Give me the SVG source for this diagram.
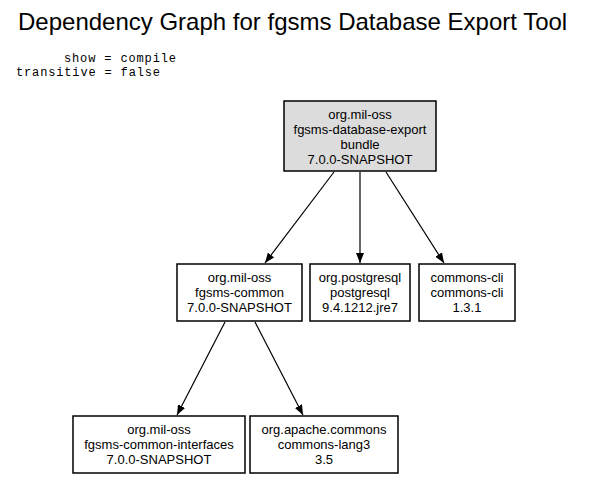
<svg xmlns="http://www.w3.org/2000/svg" width="589" height="477" viewBox="0 0 589 477">
<style>
.bg{fill:#fff}
.node rect{fill:#fff;stroke:#000;stroke-width:1.5}
.node.root rect{fill:#dcdcdc}
.node text{font-family:"Liberation Sans",Arial,sans-serif;font-size:13px;fill:#000;text-anchor:middle}
.title{font-family:"Liberation Sans",Arial,sans-serif;font-size:24px;fill:#000}
.mono{font-family:"Liberation Mono","Courier New",monospace;font-size:12px;fill:#000}
.edge{stroke:#000;stroke-width:1.2;fill:none;marker-end:url(#ah)}
</style>
<defs>
<marker id="ah" viewBox="0 0 10 8" refX="10" refY="4" markerWidth="10" markerHeight="8" markerUnits="userSpaceOnUse" orient="auto">
<path d="M0,0 L10,4 L0,8 Z" fill="#000"/>
</marker>
</defs>
<rect class="bg" x="0" y="0" width="589" height="477"/>
<text class="title" x="18" y="30">Dependency Graph for fgsms Database Export Tool</text>
<text class="mono" x="64" y="62" textLength="112" lengthAdjust="spacing">show = compile</text>
<text class="mono" x="16" y="76" textLength="144" lengthAdjust="spacing">transitive = false</text>

<g id="connectors">
<line class="edge" x1="334" y1="172" x2="265" y2="263"/>
<line class="edge" x1="360" y1="172" x2="360" y2="263"/>
<line class="edge" x1="386" y1="172" x2="444" y2="263"/>
<line class="edge" x1="225" y1="322" x2="177" y2="415"/>
<line class="edge" x1="255" y1="322" x2="303" y2="415"/>
</g>

<g id="node-root" class="node root">
<rect x="284" y="101" width="152" height="70"/>
<text x="360" y="118.5">org.mil-oss</text>
<text x="360" y="133.5">fgsms-database-export</text>
<text x="360" y="148.5">bundle</text>
<text x="360" y="163.5">7.0.0-SNAPSHOT</text>
</g>

<g id="node-fgsms-common" class="node">
<rect x="177" y="264" width="125" height="57"/>
<text x="239.5" y="281.5">org.mil-oss</text>
<text x="239.5" y="296.5">fgsms-common</text>
<text x="239.5" y="311.5">7.0.0-SNAPSHOT</text>
</g>

<g id="node-postgresql" class="node">
<rect x="310" y="264" width="100" height="57"/>
<text x="360" y="281.5">org.postgresql</text>
<text x="360" y="296.5">postgresql</text>
<text x="360" y="311.5">9.4.1212.jre7</text>
</g>

<g id="node-commons-cli" class="node">
<rect x="419" y="264" width="96" height="57"/>
<text x="467" y="281.5">commons-cli</text>
<text x="467" y="296.5">commons-cli</text>
<text x="467" y="311.5">1.3.1</text>
</g>

<g id="node-fgsms-common-interfaces" class="node">
<rect x="73" y="416" width="172" height="57"/>
<text x="159" y="433.5">org.mil-oss</text>
<text x="159" y="448.5">fgsms-common-interfaces</text>
<text x="159" y="463.5">7.0.0-SNAPSHOT</text>
</g>

<g id="node-commons-lang3" class="node">
<rect x="250" y="416" width="148" height="57"/>
<text x="324" y="433.5">org.apache.commons</text>
<text x="324" y="448.5">commons-lang3</text>
<text x="324" y="463.5">3.5</text>
</g>
</svg>
